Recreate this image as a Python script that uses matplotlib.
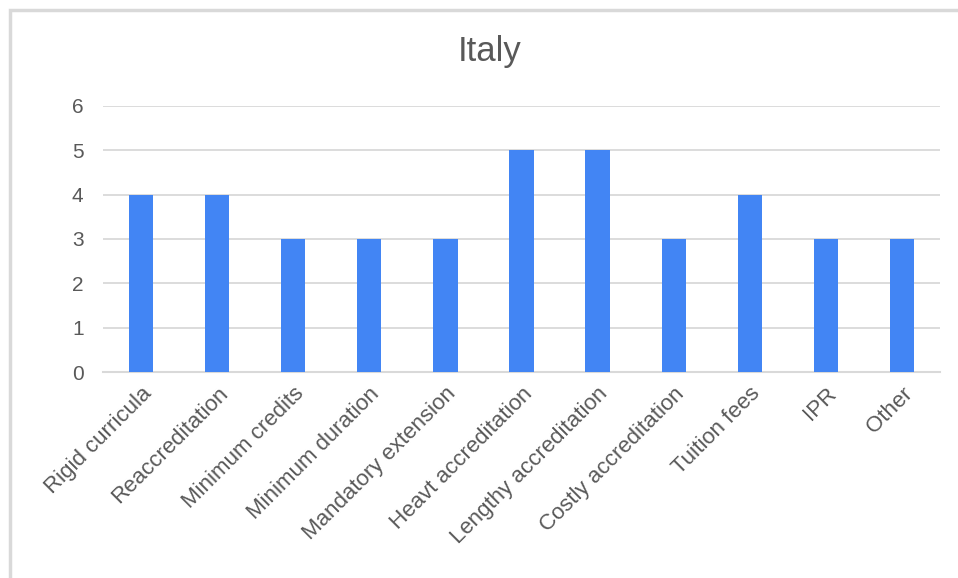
import matplotlib.pyplot as plt
from matplotlib.patches import Rectangle

categories = ['Rigid curricula', 'Reaccreditation', 'Minimum credits', 'Minimum duration',
              'Mandatory extension', 'Heavt accreditation', 'Lengthy accreditation',
              'Costly accreditation', 'Tuition fees', 'IPR', 'Other']
values = [4, 4, 3, 3, 3, 5, 5, 3, 4, 3, 3]

plt.rcParams['font.family'] = ['Liberation Sans', 'DejaVu Sans']
W, H = 958, 578
fig = plt.figure(figsize=(W / 100, H / 100), dpi=100)

# light frame around the chart area
fig.patches.append(Rectangle((10 / W, -0.1), 1.0, 1 - 10 / H + 0.1, transform=fig.transFigure,
                             fill=False, edgecolor='#d9d9d9', linewidth=2.5))

ax = fig.add_axes([103 / W, 1 - 372 / H, (940 - 103) / W, (372 - 106) / H])
ax.bar(range(len(categories)), values, width=0.32, color='#4285f4', zorder=3)
ax.set_xlim(-0.5, len(categories) - 0.5)
ax.set_ylim(0, 6)
ax.set_yticks(range(7))
ax.yaxis.grid(True, color='#d9d9d9', linewidth=1.3, zorder=0)
for s in ['top', 'right', 'left']:
    ax.spines[s].set_visible(False)
ax.spines['bottom'].set_color('#d9d9d9')
ax.spines['bottom'].set_linewidth(1.5)
ax.tick_params(length=0, labelsize=15, colors='#595959', pad=14)
ax.tick_params(axis='x', labelsize=16, pad=8)
ax.set_xticks(range(len(categories)))
ax.set_xticklabels(categories, rotation=45, ha='right', rotation_mode='anchor')

fig.text(490 / W, 1 - 52 / H, 'Italy', fontsize=25, color='#595959', ha='center', va='center')

plt.savefig('out.png', dpi=100)
